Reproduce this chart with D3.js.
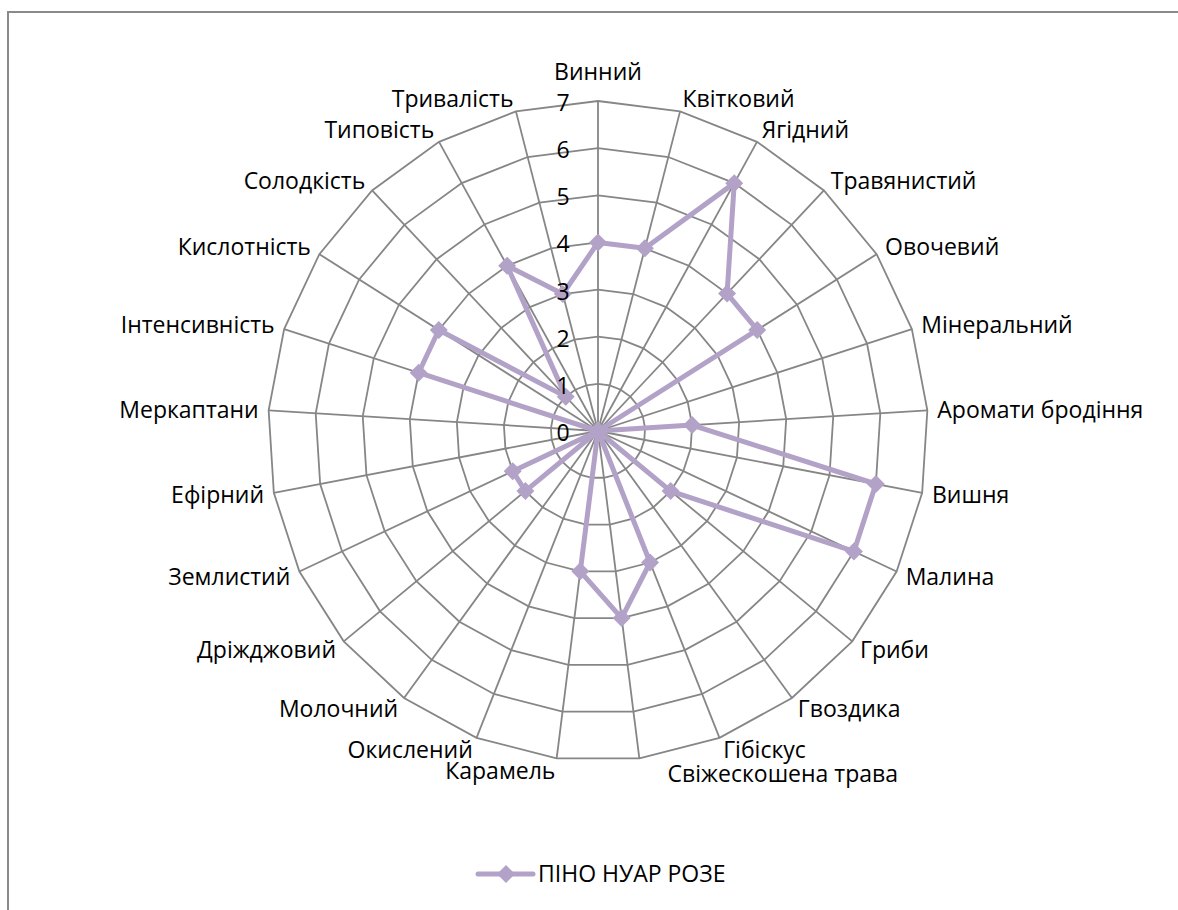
<!DOCTYPE html>
<html>
<head>
<meta charset="utf-8">
<script src="https://cdn.jsdelivr.net/npm/d3@7"></script>
<style>
  body { margin: 0; background: #fff; }
  text { font-family: "Open Sans", "Noto Sans", sans-serif; fill: #000; }
</style>
</head>
<body>
<script>
// categories and values of the single series
var categories = ["Винний", "Квітковий", "Ягідний", "Травянистий", "Овочевий", "Мінеральний",
  "Аромати бродіння", "Вишня", "Малина", "Гриби", "Гвоздика", "Гібіскус", "Свіжескошена трава",
  "Карамель", "Окислений", "Молочний", "Дріжджовий", "Землистий", "Ефірний", "Меркаптани",
  "Інтенсивність", "Кислотність", "Солодкість", "Типовість", "Тривалість"];
var values = [4, 4, 6, 4, 4, 0, 2, 6, 6, 2, 0, 3, 4, 3, 0, 0, 2, 2, 0, 0, 4, 4, 1, 4, 3];
var ticks = [0, 1, 2, 3, 4, 5, 6, 7];
var seriesName = "ПІНО НУАР РОЗЕ";

var width = 1178, height = 910;
var cx = 598, cy = 431, radius = 330;
var lineColor = "#b3a2c7", gridColor = "#868686";
var fontSize = "23px";

var svg = d3.select("body").append("svg")
  .attr("width", width)
  .attr("height", height);

// chart frame (only top and left edges are inside the picture)
svg.append("rect")
  .attr("x", 8).attr("y", 12)
  .attr("width", 1200).attr("height", 1000)
  .attr("fill", "none")
  .attr("stroke", "#8a8a8a")
  .attr("stroke-width", 2);

var r = d3.scaleLinear().domain([0, 7]).range([0, radius]);
var angle = d3.scaleLinear().domain([0, categories.length]).range([0, 2 * Math.PI]);

var g = svg.append("g").attr("transform", "translate(" + cx + "," + cy + ")");

function px(i, v) { return r(v) * Math.sin(angle(i)); }
function py(i, v) { return -r(v) * Math.cos(angle(i)); }

// polygon gridlines
ticks.slice(1).forEach(function (t) {
  g.append("path")
    .attr("d", d3.line()(categories.map(function (c, i) { return [px(i, t), py(i, t)]; })) + "Z")
    .attr("fill", "none")
    .attr("stroke", gridColor)
    .attr("stroke-width", 1.8);
});

// spokes
g.selectAll(".spoke")
  .data(categories)
  .enter().append("line")
  .attr("class", "spoke")
  .attr("x1", 0).attr("y1", 0)
  .attr("x2", function (d, i) { return px(i, 7); })
  .attr("y2", function (d, i) { return py(i, 7); })
  .attr("stroke", gridColor)
  .attr("stroke-width", 1.8);

// series line
var pts = values.map(function (v, i) { return [px(i, v), py(i, v)]; });
g.append("path")
  .attr("d", d3.line()(pts) + "Z")
  .attr("fill", "none")
  .attr("stroke", lineColor)
  .attr("stroke-width", 5)
  .attr("stroke-linejoin", "round");

// diamond markers
var diamond = "M0,-9L9,0L0,9L-9,0Z";
g.selectAll(".mk")
  .data(values)
  .enter().append("path")
  .attr("class", "mk")
  .attr("d", diamond)
  .attr("transform", function (d, i) { return "translate(" + px(i, d) + "," + py(i, d) + ")"; })
  .attr("fill", lineColor);

// radial tick labels
g.selectAll(".tick")
  .data(ticks)
  .enter().append("text")
  .attr("class", "tick")
  .attr("x", -35)
  .attr("y", function (d) { return -r(d) + 2; })
  .attr("dy", "0.35em")
  .attr("text-anchor", "middle")
  .style("font-size", fontSize)
  .text(function (d) { return d; });

// category labels
var labelR = radius + 10;
var nudge = { "Свіжескошена трава": [27, 3] };
g.selectAll(".cat")
  .data(categories)
  .enter().append("text")
  .attr("class", "cat")
  .attr("x", function (d, i) { return labelR * Math.sin(angle(i)) + (nudge[d] ? nudge[d][0] : 0); })
  .attr("y", function (d, i) {
    var c = Math.cos(angle(i));
    var s = Math.sin(angle(i));
    return -labelR * c - c * (Math.abs(s) < 0.05 ? 19 : 3) + (nudge[d] ? nudge[d][1] : 0);
  })
  .attr("dy", "0.35em")
  .attr("text-anchor", function (d, i) {
    var s = Math.sin(angle(i));
    return Math.abs(s) < 0.05 ? "middle" : (s > 0 ? "start" : "end");
  })
  .style("font-size", fontSize)
  .text(function (d) { return d; });

// legend
var lg = svg.append("g").attr("transform", "translate(478,874)");
lg.append("line")
  .attr("x1", 0).attr("x2", 55)
  .attr("y1", 0).attr("y2", 0)
  .attr("stroke", lineColor)
  .attr("stroke-width", 5)
  .attr("stroke-linecap", "round");
lg.append("path")
  .attr("d", diamond)
  .attr("transform", "translate(28,0)")
  .attr("fill", lineColor);
lg.append("text")
  .attr("x", 60).attr("y", 0)
  .attr("dy", "0.35em")
  .style("font-size", fontSize)
  .text(seriesName);
</script>
</body>
</html>
